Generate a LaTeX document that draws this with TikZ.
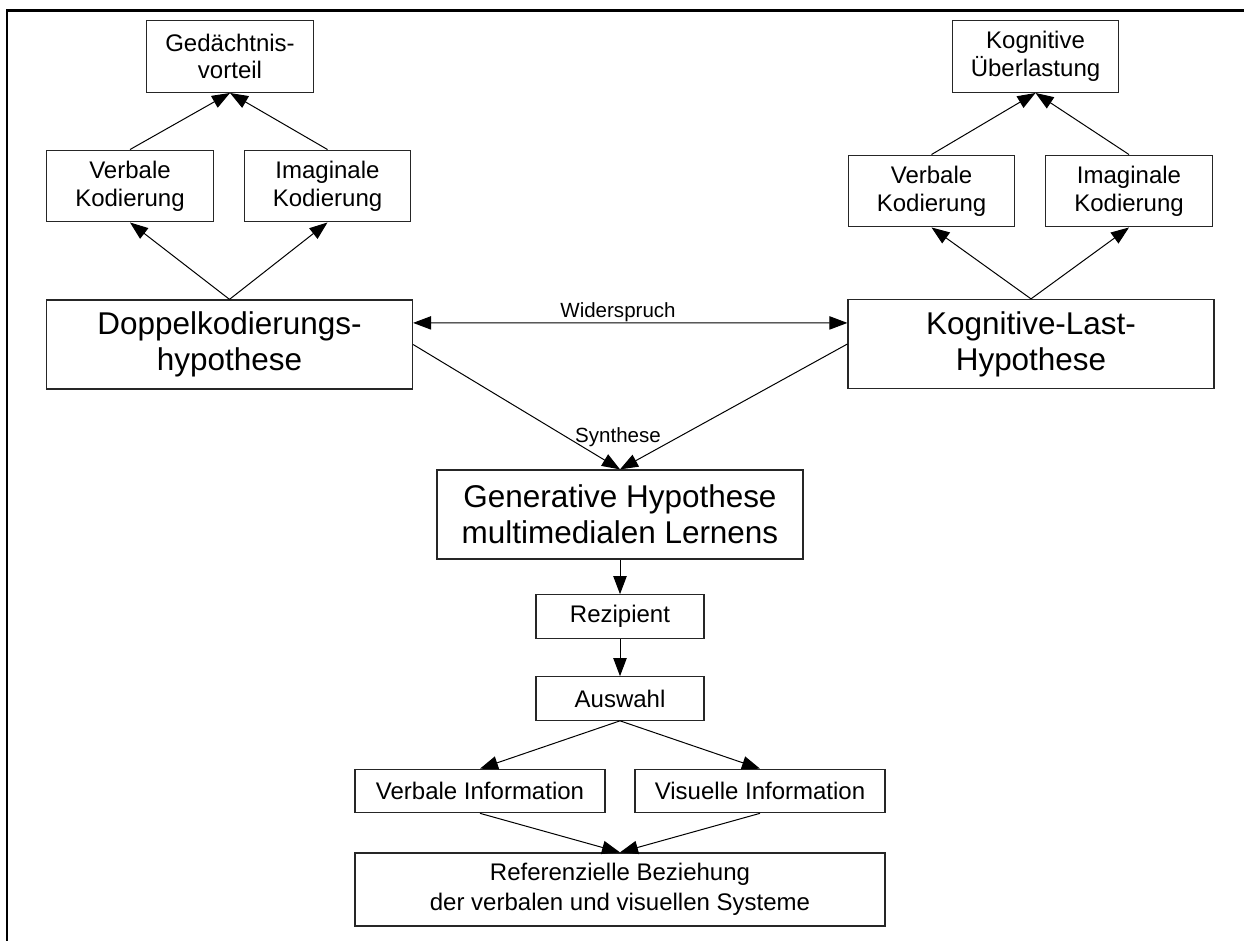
\documentclass[tikz,border=0pt]{standalone}
\usepackage{fontspec}
\setmainfont{Liberation Sans}
\usetikzlibrary{arrows.meta,calc}

\begin{document}
\begin{tikzpicture}[x=0.75pt,y=-0.75pt,
  box/.style={draw=black!85, line width=0.9pt, align=center, inner sep=0pt,
    font=\fontsize{18}{20.8}\selectfont},
  smallbox/.style={box, minimum width=125pt, minimum height=53.8pt},
  bigbox/.style={box, minimum width=274.5pt, minimum height=66.8pt,
    font=\fontsize{23.6}{27}\selectfont},
  flatbox/.style={box, minimum height=32.6pt},
  link/.style={line width=0.75pt, -{Triangle[length=13.5pt,width=10pt]}},
  twolink/.style={line width=0.75pt, {Triangle[length=13.5pt,width=10pt]}-{Triangle[length=13.5pt,width=10pt]}},
  tag/.style={font=\fontsize{15.4}{18}\selectfont, inner sep=0pt, anchor=base}]

\useasboundingbox (0,0) rectangle (1244,941);

% frame edges (top and left)
\draw[line width=1.9pt] (1250,10.3) -- (7.2,10.3) -- (7.2,950);

% left branch: dual coding
\node[smallbox] (ged) at (230,56.5) {Gedächtnis-\\vorteil};
\node[smallbox] (vk1) at (130,186) {Verbale\\Kodierung};
\node[smallbox] (ik1) at (327.5,186) {Imaginale\\Kodierung};
\node[bigbox] (dop) at (229.5,344.5) {Doppelkodierungs-\\hypothese};

% right branch: cognitive load
\node[smallbox] (kog) at (1035.5,56.5) {Kognitive\\Überlastung};
\node[smallbox] (vk2) at (931.5,191) {Verbale\\Kodierung};
\node[smallbox] (ik2) at (1129,191) {Imaginale\\Kodierung};
\node[bigbox] (klh) at (1031,344) {Kognitive-Last-\\Hypothese};

% synthesis and the chain below it
\node[bigbox] (gen) at (620,514.5) {Generative Hypothese\\multimedialen Lernens};
\node[flatbox, minimum width=126pt] (rez) at (620,616.5) {Rezipient};
\node[flatbox, minimum width=126pt] (aus) at (620,698.5) {Auswahl};
\node[flatbox, minimum width=187.5pt] (vi) at (480,791) {Verbale Information};
\node[flatbox, minimum width=187.5pt] (vis) at (760,791) {Visuelle Information};
\node[box, minimum width=397.5pt, minimum height=54.8pt,
  font=\fontsize{18}{22.5}\selectfont] (ref) at (620,889.5)
  {Referenzielle Beziehung\\der verbalen und visuellen Systeme};

% connectors
\draw[link] (vk1.north) -- (ged.south);
\draw[link] (ik1.north) -- (ged.south);
\draw[link] (dop.north) -- (vk1.south);
\draw[link] (dop.north) -- (ik1.south);

\draw[link] (vk2.north) -- (kog.south);
\draw[link] (ik2.north) -- (kog.south);
\draw[link] (klh.north) -- (vk2.south);
\draw[link] (klh.north) -- (ik2.south);

\draw[twolink] ([yshift=16.2pt]dop.east) -- ([yshift=15.8pt]klh.west);
\node[tag] (wid) at (618,317) {Widerspruch};

\draw[link] (dop.east) -- (gen.north);
\draw[link] (klh.west) -- (gen.north);
\node[tag] (syn) at (618,442) {Synthese};

\draw[link] (gen.south) -- (rez.north);
\draw[link] (rez.south) -- (aus.north);
\draw[link] (aus.south) -- (vi.north);
\draw[link] (aus.south) -- (vis.north);
\draw[link] (vi.south) -- (ref.north);
\draw[link] (vis.south) -- (ref.north);

\end{tikzpicture}
\end{document}
